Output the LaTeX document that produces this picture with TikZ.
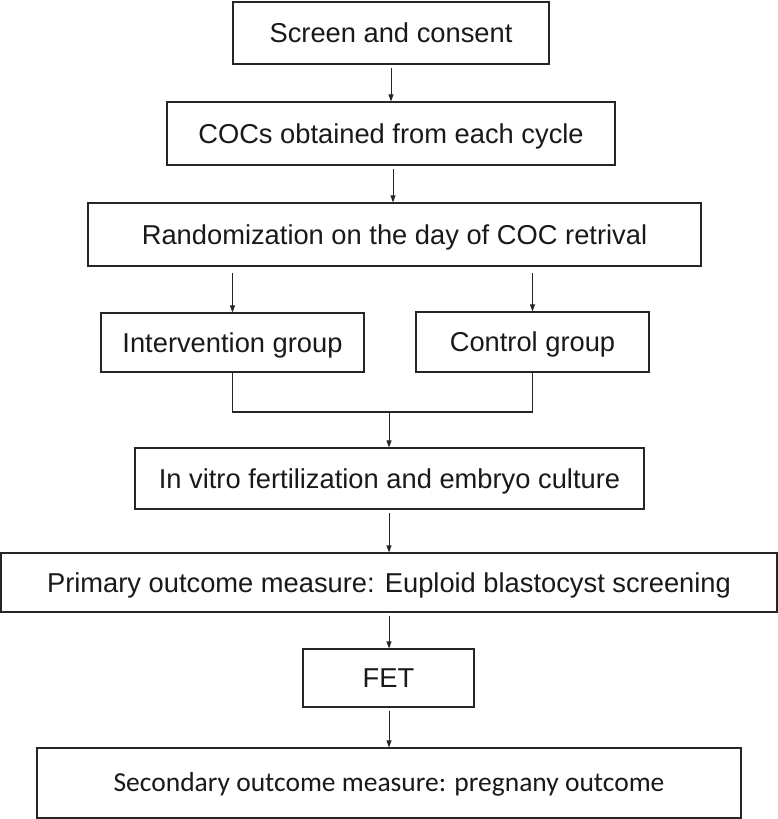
\documentclass[tikz,border=0pt]{standalone}
\usepackage{fontspec}
\setmainfont{Liberation Sans}
\newfontfamily\calfont{Carlito}
\usetikzlibrary{arrows.meta}
\begin{document}
\begin{tikzpicture}[x=1pt,y=-1pt,
  box/.style={draw=black!85, line width=1.2pt, rectangle, inner sep=0pt,
    font=\fontsize{27.3pt}{30pt}\selectfont, text height=19.5pt, text depth=0pt, text=black!90},
  calbox/.style={box, font=\calfont\fontsize{27.5pt}{30pt}\selectfont, text height=17.7pt},
  arr/.style={draw=black!85, line width=0.9pt, -{Triangle[length=7pt,width=5pt]}, shorten <=3pt},
  ln/.style={draw=black!85, line width=1.2pt}]
\useasboundingbox (0,0) rectangle (778,819);
\node[box, minimum width=316pt, minimum height=62pt] (b1) at (391,33) {Screen and consent};
\node[box, minimum width=448pt, minimum height=63pt] (b2) at (391,133.5) {COCs obtained from each cycle};
\node[box, minimum width=613pt, minimum height=63pt] (b3) at (394.5,234.5) {Randomization on the day of COC retrival};
\node[box, minimum width=263pt, minimum height=59pt] (b4) at (232.5,342.5) {Intervention group};
\node[box, minimum width=233pt, minimum height=60pt] (b5) at (532.5,342) {Control group};
\node[box, minimum width=509pt, minimum height=61pt] (b6) at (389.5,478.5) {In vitro fertilization and embryo culture};
\node[box, minimum width=776pt, minimum height=59pt] (b7) at (389,582.5) {Primary outcome measure: Euploid blastocyst screening};
\node[box, minimum width=171pt, minimum height=58pt] (b8) at (388.5,678) {FET};
\node[calbox, minimum width=704pt, minimum height=70pt] (b9) at (389,783) {Secondary outcome measure: pregnany outcome};
\coordinate (m) at (389,412);
\draw[arr] (b1.south) -- (b2.north);
\draw[arr] ([xshift=2pt]b2.south) -- ([xshift=2pt]b2.south |- b3.north);
\draw[arr, shorten <=6pt] (b4.north |- b3.south) -- (b4.north);
\draw[arr, shorten <=6pt] (b5.north |- b3.south) -- (b5.north);
\draw[ln] (b4.south) -- (b4.south |- m) -- (b5.south |- m) -- (b5.south);
\draw[arr, shorten <=0pt] (m) -- (m |- b6.north);
\draw[arr] (m |- b6.south) -- (m |- b7.north);
\draw[arr] (m |- b7.south) -- (m |- b8.north);
\draw[arr] (m |- b8.south) -- (m |- b9.north);
\end{tikzpicture}
\end{document}
